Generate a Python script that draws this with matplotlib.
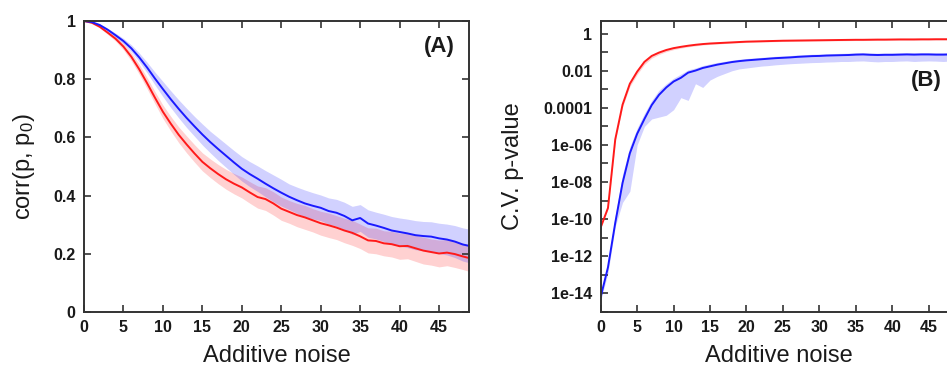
import numpy as np
import matplotlib.pyplot as plt
from matplotlib.ticker import FixedLocator, FuncFormatter

plt.rcParams['font.family'] = ['Liberation Sans', 'DejaVu Sans']
plt.rcParams['mathtext.fontset'] = 'custom'
plt.rcParams['mathtext.rm'] = 'Liberation Sans'
plt.rcParams['mathtext.it'] = 'Liberation Sans:italic'

# additive noise levels
noise = list(range(50))

# panel A: correlation with the original profile
corr_blue = [1.000, 0.996, 0.986, 0.970, 0.951, 0.931, 0.906, 0.875, 0.840, 0.802,
             0.766, 0.731, 0.698, 0.667, 0.638, 0.610, 0.584, 0.560, 0.537, 0.514,
             0.492, 0.474, 0.458, 0.441, 0.425, 0.410, 0.396, 0.384, 0.373, 0.365,
             0.358, 0.347, 0.341, 0.330, 0.315, 0.323, 0.304, 0.297, 0.289, 0.280,
             0.275, 0.270, 0.264, 0.261, 0.259, 0.253, 0.249, 0.242, 0.232, 0.226]
corr_blue_spread = [0.002, 0.003, 0.004, 0.005, 0.007, 0.009, 0.012, 0.015, 0.018, 0.022,
                    0.026, 0.029, 0.031, 0.033, 0.034, 0.036, 0.037, 0.039, 0.040, 0.041,
                    0.042, 0.043, 0.044, 0.045, 0.046, 0.046, 0.044, 0.045, 0.046, 0.045,
                    0.044, 0.045, 0.046, 0.047, 0.048, 0.046, 0.047, 0.046, 0.047, 0.048,
                    0.048, 0.049, 0.050, 0.050, 0.051, 0.052, 0.053, 0.055, 0.057, 0.058]
corr_red = [1.000, 0.994, 0.980, 0.960, 0.939, 0.912, 0.877, 0.834, 0.786, 0.736,
            0.688, 0.647, 0.609, 0.576, 0.545, 0.516, 0.494, 0.474, 0.456, 0.441,
            0.428, 0.411, 0.395, 0.388, 0.373, 0.355, 0.344, 0.333, 0.325, 0.315,
            0.305, 0.298, 0.290, 0.280, 0.272, 0.260, 0.246, 0.244, 0.236, 0.233,
            0.226, 0.227, 0.219, 0.211, 0.206, 0.201, 0.204, 0.199, 0.191, 0.184]
corr_red_spread = [0.002, 0.003, 0.004, 0.006, 0.008, 0.011, 0.014, 0.017, 0.019, 0.021,
                   0.023, 0.025, 0.027, 0.029, 0.030, 0.031, 0.032, 0.033, 0.034, 0.035,
                   0.036, 0.037, 0.038, 0.039, 0.040, 0.040, 0.039, 0.040, 0.041, 0.040,
                   0.041, 0.042, 0.041, 0.042, 0.043, 0.042, 0.043, 0.044, 0.043, 0.044,
                   0.045, 0.044, 0.045, 0.046, 0.045, 0.046, 0.045, 0.046, 0.045, 0.046]

# panel B: cross-validation p-values (log10)
logp_red = [-10.45, -9.40, -5.70, -3.83, -2.70, -2.05, -1.52, -1.20, -1.02, -0.88,
            -0.78, -0.71, -0.65, -0.60, -0.56, -0.53, -0.51, -0.49, -0.47, -0.45,
            -0.43, -0.42, -0.41, -0.40, -0.39, -0.38, -0.375, -0.37, -0.365, -0.36,
            -0.355, -0.35, -0.345, -0.34, -0.335, -0.33, -0.33, -0.325, -0.32, -0.32,
            -0.315, -0.31, -0.31, -0.31, -0.305, -0.305, -0.30, -0.30, -0.30, -0.30]
logp_red_spread = [0.05, 0.05, 0.08, 0.12, 0.15, 0.15, 0.14, 0.12, 0.10, 0.09,
                   0.08, 0.07, 0.06, 0.06, 0.05, 0.05, 0.05, 0.04, 0.04, 0.04,
                   0.04, 0.04, 0.04, 0.04, 0.04, 0.04, 0.04, 0.04, 0.04, 0.04,
                   0.04, 0.04, 0.04, 0.04, 0.04, 0.04, 0.04, 0.04, 0.04, 0.04,
                   0.04, 0.04, 0.04, 0.04, 0.04, 0.04, 0.04, 0.04, 0.04, 0.04]
logp_blue = [-14.20, -12.60, -10.20, -8.05, -6.45, -5.40, -4.60, -3.85, -3.30, -2.90,
             -2.58, -2.38, -2.10, -1.99, -1.85, -1.76, -1.67, -1.60, -1.53, -1.48,
             -1.44, -1.41, -1.38, -1.35, -1.32, -1.30, -1.28, -1.25, -1.23, -1.21,
             -1.20, -1.18, -1.17, -1.16, -1.15, -1.13, -1.12, -1.14, -1.15, -1.14,
             -1.14, -1.13, -1.12, -1.13, -1.12, -1.12, -1.13, -1.13, -1.12, -1.12]
logp_blue_lo = [-14.40, -12.90, -10.40, -9.10, -8.50, -6.00, -5.00, -4.60, -4.50, -4.40,
                -4.10, -3.45, -3.60, -2.70, -2.90, -2.50, -2.30, -2.15, -2.00, -1.90,
                -1.85, -1.80, -1.75, -1.72, -1.68, -1.65, -1.62, -1.60, -1.58, -1.56,
                -1.55, -1.53, -1.52, -1.50, -1.50, -1.48, -1.47, -1.50, -1.52, -1.50,
                -1.50, -1.48, -1.47, -1.50, -1.48, -1.47, -1.48, -1.50, -1.47, -1.47]
logp_blue_hi = [-14.10, -12.30, -9.80, -7.60, -6.10, -5.10, -4.30, -3.60, -3.05, -2.70,
                -2.40, -2.18, -1.95, -1.85, -1.72, -1.63, -1.55, -1.49, -1.43, -1.38,
                -1.34, -1.31, -1.28, -1.25, -1.22, -1.20, -1.18, -1.15, -1.13, -1.11,
                -1.10, -1.08, -1.07, -1.06, -1.05, -1.03, -1.02, -1.04, -1.05, -1.04,
                -1.04, -1.03, -1.02, -1.03, -1.02, -1.02, -1.03, -1.03, -1.02, -1.02]

red = '#ff1a1a'
blue = '#1a1aff'
frame = '#333333'
ink = '#1a1a1a'


def style(ax):
    ax.tick_params(direction='in', top=True, right=True, length=5, width=1.2,
                   colors=frame, labelcolor=ink, labelsize=11.5, pad=6)
    for lab in ax.get_xticklabels() + ax.get_yticklabels():
        lab.set_fontweight('bold')
    for s in ax.spines.values():
        s.set_color(frame)
        s.set_linewidth(1.4)


fig = plt.figure(figsize=(9.47, 3.68), dpi=100)

x = np.array(noise)

# panel A
ax1 = fig.add_axes([0.0887, 0.1522, 0.4066, 0.7908])
r = np.array(corr_red)
rs = np.array(corr_red_spread)
b = np.array(corr_blue)
bs = np.array(corr_blue_spread)
ax1.fill_between(x, r - rs, r + rs, color=red, alpha=0.2, lw=0)
ax1.plot(x, r, color=red, lw=1.4)
ax1.fill_between(x, b - bs, b + bs, color=blue, alpha=0.2, lw=0)
ax1.plot(x, b, color=blue, lw=1.4)
ax1.set_xlim(0, 48.8)
ax1.set_ylim(0, 1)
ax1.set_xticks(range(0, 50, 5))
ax1.set_yticks([0, 0.2, 0.4, 0.6, 0.8, 1])
ax1.yaxis.set_major_formatter(FuncFormatter(lambda v, p: '%g' % v))
style(ax1)
ax1.set_xlabel('Additive noise', fontsize=17, color=ink, va='top')
ax1.xaxis.set_label_coords(0.5, -0.115)
ax1.set_ylabel('corr(p, p$_{0}$)', fontsize=17, color=ink)
ax1.yaxis.set_label_coords(-0.122, 0.5)
ax1.text(47.0, 0.912, '(A)', fontsize=16, fontweight='bold', ha='right', va='center',
         color=ink)

# panel B
ax2 = fig.add_axes([0.6343, 0.1522, 0.3772, 0.7908])
pr = np.array(logp_red)
prs = np.array(logp_red_spread)
ax2.fill_between(x, 10 ** (pr - prs), 10 ** (pr + prs * 0.5), color=red, alpha=0.2, lw=0)
ax2.plot(x, 10 ** pr, color=red, lw=1.4)
ax2.fill_between(x, 10 ** np.array(logp_blue_lo), 10 ** np.array(logp_blue_hi),
                 color=blue, alpha=0.2, lw=0)
ax2.plot(x, 10 ** np.array(logp_blue), color=blue, lw=1.4)
ax2.set_yscale('log')
ax2.set_xlim(0, 49)
ax2.set_ylim(10 ** -15.01, 10 ** 0.685)
ax2.set_xticks(range(0, 50, 5))
ax2.yaxis.set_major_locator(FixedLocator([10.0 ** k for k in range(-15, 1)]))
ax2.yaxis.set_minor_locator(FixedLocator([]))


def pfmt(v, pos):
    k = int(round(np.log10(v)))
    if k % 2:
        return ''
    if k >= -4:
        return '%g' % v if k < 0 else '1'
    return '1e-%02d' % (-k)


ax2.yaxis.set_major_formatter(FuncFormatter(pfmt))
style(ax2)
ax2.set_xlabel('Additive noise', fontsize=17, color=ink, va='top')
ax2.xaxis.set_label_coords(0.5, -0.115)
ax2.set_ylabel('C.V. p-value', fontsize=17, color=ink)
ax2.yaxis.set_label_coords(-0.215, 0.5)
ax2.text(42.6, 10 ** -2.5, '(B)', fontsize=16, fontweight='bold', ha='left', va='center',
         color=ink)

fig.savefig('out.png', dpi=100)
